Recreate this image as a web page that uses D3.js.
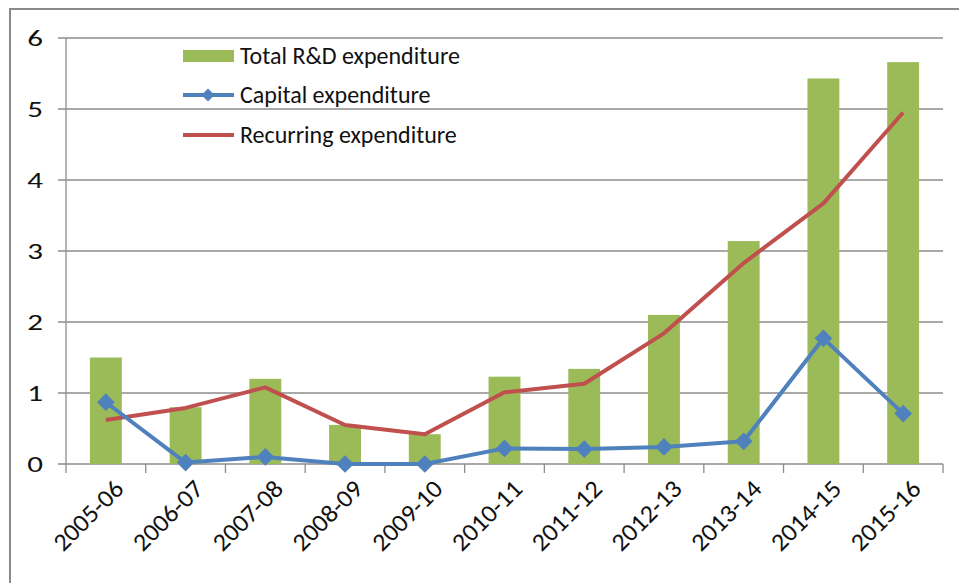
<!DOCTYPE html>
<html>
<head>
<meta charset="utf-8">
<title>R&amp;D expenditure</title>
<script src="https://cdn.jsdelivr.net/npm/d3@7"></script>
<style>
  body { margin: 0; background: #fff; }
  text { font-family: Carlito, "Open Sans", "Liberation Sans", sans-serif; fill: #111; }
</style>
</head>
<body>
<svg id="chart"></svg>
<script>
var years = ["2005-06", "2006-07", "2007-08", "2008-09", "2009-10", "2010-11",
             "2011-12", "2012-13", "2013-14", "2014-15", "2015-16"];
var totalRD   = [1.50, 0.80, 1.20, 0.55, 0.42, 1.23, 1.34, 2.10, 3.14, 5.43, 5.66];
var capital   = [0.87, 0.02, 0.10, 0.00, 0.00, 0.22, 0.21, 0.24, 0.32, 1.77, 0.71];
var recurring = [0.62, 0.79, 1.08, 0.55, 0.42, 1.01, 1.13, 1.84, 2.83, 3.67, 4.95];
var yTicks = [0, 1, 2, 3, 4, 5, 6];
var seriesNames = ["Total R&D expenditure", "Capital expenditure", "Recurring expenditure"];

var width = 959, height = 583,
    margin = {top: 38, left: 66, right: 16, bottom: 119};

var green = "#9BBB59", blue = "#4F81BD", red = "#C0504D", grid = "#8c8c8c";

var svg = d3.select("#chart").attr("width", width).attr("height", height);

// outer frame (only top and left edges show)
svg.append("path")
    .attr("d", "M10,583 L10,9 L959,9")
    .attr("fill", "none").attr("stroke", "#8a8a8a").attr("stroke-width", 2);

var x = d3.scaleBand().domain(years)
    .range([margin.left, width - margin.right]);
var y = d3.scaleLinear().domain([0, 6]).range([height - margin.bottom, margin.top]);

// gridlines + y ticks
svg.append("g").selectAll("line").data(yTicks).enter().append("line")
    .attr("x1", margin.left - 8).attr("x2", width - margin.right)
    .attr("y1", function(d) { return y(d); }).attr("y2", function(d) { return y(d); })
    .attr("stroke", grid).attr("stroke-width", 1.3);

svg.append("line")
    .attr("x1", margin.left).attr("x2", margin.left)
    .attr("y1", y(6)).attr("y2", y(0))
    .attr("stroke", grid).attr("stroke-width", 1.3);

svg.append("g").selectAll("text").data(yTicks).enter().append("text")
    .attr("transform", function(d) { return "translate(43," + y(d) + ")scale(1.35,1)"; })
    .attr("dy", "0.33em").attr("text-anchor", "end")
    .style("font-size", "23px")
    .text(function(d) { return d; });

// x ticks at band edges
var edges = years.map(function(d) { return x(d); }).concat([width - margin.right]);
svg.append("g").selectAll("line").data(edges).enter().append("line")
    .attr("x1", function(d) { return d; }).attr("x2", function(d) { return d; })
    .attr("y1", y(0)).attr("y2", y(0) + 9)
    .attr("stroke", grid).attr("stroke-width", 1.3);

// bars
var barW = x.bandwidth() / 2.5;
svg.append("g").selectAll("rect").data(totalRD).enter().append("rect")
    .attr("x", function(d, i) { return x(years[i]) + x.bandwidth() / 2 - barW / 2; })
    .attr("y", function(d) { return y(d); })
    .attr("width", barW)
    .attr("height", function(d) { return y(0) - y(d); })
    .attr("fill", green);

var cx = function(d, i) { return x(years[i]) + x.bandwidth() / 2; };
var line = d3.line().x(cx).y(function(d) { return y(d); });

svg.append("path").datum(recurring)
    .attr("d", line).attr("fill", "none")
    .attr("stroke", red).attr("stroke-width", 4).attr("stroke-linejoin", "round");

svg.append("path").datum(capital)
    .attr("d", line).attr("fill", "none")
    .attr("stroke", blue).attr("stroke-width", 4).attr("stroke-linejoin", "round");

var diamond = d3.symbol().type(d3.symbolDiamond2).size(200);
svg.append("g").selectAll("path").data(capital).enter().append("path")
    .attr("d", diamond)
    .attr("transform", function(d, i) { return "translate(" + cx(d, i) + "," + y(d) + ")"; })
    .attr("fill", blue);

// x labels, rotated
svg.append("g").selectAll("text").data(years).enter().append("text")
    .attr("transform", function(d) {
        return "translate(" + (x(d) + x.bandwidth() / 2 + 7) + "," + (y(0) + 14) + ")rotate(-45)scale(1.05,1)";
    })
    .attr("text-anchor", "end").attr("dy", "0.7em")
    .style("font-size", "25px")
    .text(function(d) { return d; });

// legend
var legend = svg.append("g");
legend.append("rect").attr("x", 183).attr("y", 50).attr("width", 51).attr("height", 12).attr("fill", green);
legend.append("line").attr("x1", 183).attr("x2", 234).attr("y1", 95).attr("y2", 95)
    .attr("stroke", blue).attr("stroke-width", 4);
legend.append("path").attr("d", d3.symbol().type(d3.symbolDiamond2).size(110))
    .attr("transform", "translate(208,95)").attr("fill", blue);
legend.append("line").attr("x1", 183).attr("x2", 234).attr("y1", 135).attr("y2", 135)
    .attr("stroke", red).attr("stroke-width", 4);

legend.selectAll("text.lg").data(seriesNames).enter().append("text")
    .attr("class", "lg")
    .attr("x", 240).attr("y", function(d, i) { return [56, 95, 135][i]; })
    .attr("dy", "0.35em")
    .style("font-size", "24px")
    .text(function(d) { return d; });
</script>
</body>
</html>
